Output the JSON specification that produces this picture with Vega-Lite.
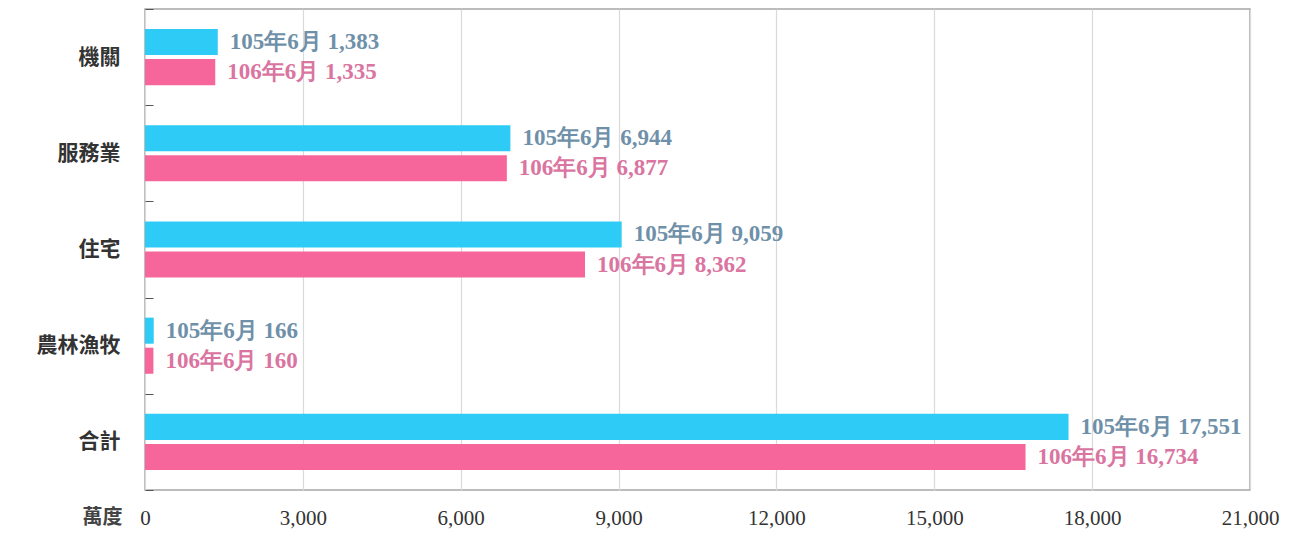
{
  "$schema": "https://vega.github.io/schema/vega-lite/v6.json",
  "width": 1105,
  "height": 481,
  "autosize": {"type": "none"},
  "padding": {"left": 145, "top": 9, "right": 49, "bottom": 69},
  "background": "white",
  "config": {
    "view": {"stroke": "#A6A6A6", "strokeWidth": 1.5}
  },
  "data": {
    "values": [
      {"category": "機關", "period": "105年6月", "value": 1383},
      {"category": "機關", "period": "106年6月", "value": 1335},
      {"category": "服務業", "period": "105年6月", "value": 6944},
      {"category": "服務業", "period": "106年6月", "value": 6877},
      {"category": "住宅", "period": "105年6月", "value": 9059},
      {"category": "住宅", "period": "106年6月", "value": 8362},
      {"category": "農林漁牧", "period": "105年6月", "value": 166},
      {"category": "農林漁牧", "period": "106年6月", "value": 160},
      {"category": "合計", "period": "105年6月", "value": 17551},
      {"category": "合計", "period": "106年6月", "value": 16734}
    ]
  },
  "transform": [
    {"calculate": "datum.period + ' ' + format(datum.value, ',')", "as": "label"}
  ],
  "encoding": {
    "y": {
      "field": "category",
      "type": "nominal",
      "sort": ["機關", "服務業", "住宅", "農林漁牧", "合計"],
      "scale": {"paddingInner": 0, "paddingOuter": 0},
      "axis": {
        "title": null,
        "domain": false,
        "tickBand": "extent",
        "tickSize": -8,
        "tickColor": "#555555",
        "tickWidth": 1,
        "labelFont": "Noto Sans CJK TC",
        "labelFontSize": 21,
        "labelFontWeight": "bold",
        "labelColor": "#333333",
        "labelPadding": 33
      }
    },
    "yOffset": {
      "field": "period",
      "sort": ["105年6月", "106年6月"],
      "scale": {"paddingInner": 0.133, "paddingOuter": 0.667}
    },
    "x": {
      "field": "value",
      "type": "quantitative",
      "scale": {"domain": [0, 21000], "nice": false},
      "axis": {
        "values": [0, 3000, 6000, 9000, 12000, 15000, 18000, 21000],
        "labelExpr": "format(datum.value, ',')",
        "labelFlush": false,
        "domain": false,
        "ticks": false,
        "grid": true,
        "gridColor": "#DADADA",
        "gridWidth": 1.2,
        "labelFont": "Liberation Serif",
        "labelFontSize": 21,
        "labelColor": "#333333",
        "labelPadding": 17,
        "title": "萬度",
        "titleFont": "Noto Sans CJK TC",
        "titleFontSize": 20,
        "titleFontWeight": "bold",
        "titleColor": "#444444",
        "titleX": -43,
        "titleY": 27,
        "titleAlign": "center",
        "titleBaseline": "middle"
      }
    }
  },
  "layer": [
    {
      "mark": {"type": "bar"},
      "encoding": {
        "color": {
          "field": "period",
          "type": "nominal",
          "scale": {"domain": ["105年6月", "106年6月"], "range": ["#2ECBF7", "#F7669A"]},
          "legend": null
        }
      }
    },
    {
      "mark": {"type": "text", "align": "left", "baseline": "middle", "dx": 12, "font": "Liberation Serif", "fontWeight": "bold", "fontSize": 23},
      "encoding": {
        "text": {"field": "label", "type": "nominal"},
        "color": {
          "field": "period",
          "type": "nominal",
          "scale": {"domain": ["105年6月", "106年6月"], "range": ["#6F90A9", "#DA74A0"]},
          "legend": null
        }
      }
    }
  ],
  "resolve": {"scale": {"color": "independent"}}
}
